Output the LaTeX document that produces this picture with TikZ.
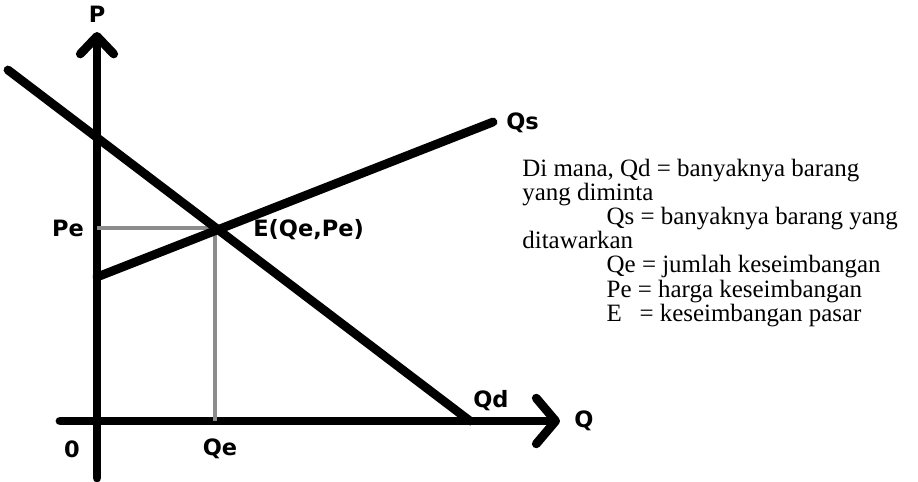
\documentclass[tikz,border=0pt]{standalone}
\usepackage{fontspec}
\setmainfont{Liberation Serif}
\newfontfamily\lblfont{DejaVu Sans}[BoldFont={DejaVu Sans Bold}]
\usetikzlibrary{arrows.meta,positioning}
\tikzset{
  axis/.style={line width=5pt, line cap=round, draw=black},
  curve/.style={line width=5pt, line cap=round, draw=black},
  guide/.style={line width=2pt, draw=black!45},
  lbl/.style={font=\lblfont\bfseries\fontsize{12.8}{13}\selectfont, inner sep=0pt},
  note/.style={font=\fontsize{14.2}{13.7}\selectfont, align=left, inner sep=0pt},
}
\begin{document}
\begin{tikzpicture}[x=0.02cm, y=-0.02cm]
  \useasboundingbox (0,0) rectangle (918,481);
  % axes
  \coordinate (O) at (97,421);
  \coordinate (ptop) at (97,32);
  \coordinate (pbot) at (97,478);
  \coordinate (qleft) at (60,421);
  \coordinate (qright) at (560,421);
  \draw[axis, -{Straight Barb[length=10pt 0, width=19pt 0, round]}] (pbot) -- (ptop);
  \draw[axis, -{Straight Barb[length=11pt 0, width=26pt 0, round]}] (qleft) -- (qright);
  % demand and supply
  \coordinate (dtop) at (8,70);
  \coordinate (dbot) at (470,421);
  \coordinate (sbot) at (97,277);
  \coordinate (stop) at (493,122);
  \coordinate (E) at (215,228);
  \draw[guide] (O |- E) -- (E);
  \draw[guide] (E) -- (E |- O);
  \draw[curve] (dtop) -- (dbot);
  \draw[curve] (sbot) -- (stop);
  % labels
  \node[lbl] (lp) at (97,14) {P};
  \node[lbl, right=8pt of qright] (lq) {Q};
  \node[lbl] (lzero) at (72,449) {0};
  \node[lbl] (lqe) at (220,449) {Qe};
  \node[lbl] (lpe) at (68,228) {Pe};
  \node[lbl, anchor=west] (le) at (253,230) {E(Qe,Pe)};
  \node[lbl, anchor=west] (lqd) at (473,401) {Qd};
  \node[lbl, anchor=west] (lqs) at (506,123) {Qs};
  \node[note, anchor=north west] (legend) at (522,159) {%
    Di mana, Qd = banyaknya barang\\
    yang diminta\\
    \hspace*{48pt}Qs = banyaknya barang yang\\
    ditawarkan\\
    \hspace*{48pt}Qe = jumlah keseimbangan\\
    \hspace*{48pt}Pe = harga keseimbangan\\
    \hspace*{48pt}E\hspace{10pt}= keseimbangan pasar};
\end{tikzpicture}
\end{document}
